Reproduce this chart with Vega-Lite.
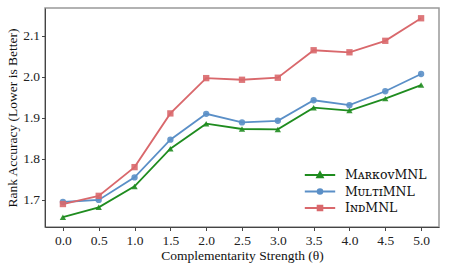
{
  "$schema": "https://vega.github.io/schema/vega-lite/v6.json",
  "width": 394,
  "height": 219,
  "padding": {"left": 5, "top": 8, "right": 8, "bottom": 5},
  "config": {
    "font": "Liberation Serif",
    "view": {"stroke": "#999999", "strokeWidth": 1.5},
    "axis": {"labelFont": "Liberation Serif", "titleFont": "Liberation Serif", "labelFontSize": 13.5, "titleFontSize": 13.5, "titleFontWeight": "normal", "labelColor": "#222", "titleColor": "#111", "grid": false, "domainColor": "#444", "tickColor": "#444", "tickSize": 3.5}
  },
  "data": {"values": [
    {"theta": 0.0, "model": "MarkovMNL", "v": 1.658},
    {"theta": 0.5, "model": "MarkovMNL", "v": 1.682},
    {"theta": 1.0, "model": "MarkovMNL", "v": 1.733},
    {"theta": 1.5, "model": "MarkovMNL", "v": 1.825},
    {"theta": 2.0, "model": "MarkovMNL", "v": 1.886},
    {"theta": 2.5, "model": "MarkovMNL", "v": 1.873},
    {"theta": 3.0, "model": "MarkovMNL", "v": 1.872},
    {"theta": 3.5, "model": "MarkovMNL", "v": 1.925},
    {"theta": 4.0, "model": "MarkovMNL", "v": 1.918},
    {"theta": 4.5, "model": "MarkovMNL", "v": 1.947},
    {"theta": 5.0, "model": "MarkovMNL", "v": 1.980},
    {"theta": 0.0, "model": "MultiMNL", "v": 1.695},
    {"theta": 0.5, "model": "MultiMNL", "v": 1.700},
    {"theta": 1.0, "model": "MultiMNL", "v": 1.755},
    {"theta": 1.5, "model": "MultiMNL", "v": 1.847},
    {"theta": 2.0, "model": "MultiMNL", "v": 1.910},
    {"theta": 2.5, "model": "MultiMNL", "v": 1.889},
    {"theta": 3.0, "model": "MultiMNL", "v": 1.893},
    {"theta": 3.5, "model": "MultiMNL", "v": 1.943},
    {"theta": 4.0, "model": "MultiMNL", "v": 1.931},
    {"theta": 4.5, "model": "MultiMNL", "v": 1.965},
    {"theta": 5.0, "model": "MultiMNL", "v": 2.007},
    {"theta": 0.0, "model": "IndMNL", "v": 1.690},
    {"theta": 0.5, "model": "IndMNL", "v": 1.710},
    {"theta": 1.0, "model": "IndMNL", "v": 1.780},
    {"theta": 1.5, "model": "IndMNL", "v": 1.911},
    {"theta": 2.0, "model": "IndMNL", "v": 1.997},
    {"theta": 2.5, "model": "IndMNL", "v": 1.993},
    {"theta": 3.0, "model": "IndMNL", "v": 1.998},
    {"theta": 3.5, "model": "IndMNL", "v": 2.065},
    {"theta": 4.0, "model": "IndMNL", "v": 2.060},
    {"theta": 4.5, "model": "IndMNL", "v": 2.088},
    {"theta": 5.0, "model": "IndMNL", "v": 2.143}
  ]},
  "encoding": {
    "x": {"field": "theta", "type": "quantitative", "scale": {"domain": [-0.25, 5.25], "nice": false, "zero": false},
      "axis": {"values": [0, 0.5, 1, 1.5, 2, 2.5, 3, 3.5, 4, 4.5, 5], "format": ".1f", "title": "Complementarity Strength (θ)", "titlePadding": 1, "labelPadding": 3}},
    "y": {"field": "v", "type": "quantitative", "scale": {"domain": [1.634, 2.168], "nice": false, "zero": false},
      "axis": {"values": [1.7, 1.8, 1.9, 2.0, 2.1], "format": ".1f", "title": "Rank Accuracy (Lower is Better)", "titlePadding": 3, "labelPadding": 2}}
  },
  "layer": [
    {"mark": {"type": "line", "strokeWidth": 1.8},
      "encoding": {"color": {"field": "model", "type": "nominal", "sort": ["MarkovMNL", "MultiMNL", "IndMNL"],
        "scale": {"domain": ["MarkovMNL", "MultiMNL", "IndMNL"], "range": ["#1f8c1f", "#5a8fc7", "#d9686c"]},
        "legend": {"title": null, "orient": "bottom-right", "offset": 12, "labelFontSize": 12.5, "labelFont": "DejaVu Serif", "labelColor": "#111", "symbolSize": 256, "symbolStrokeWidth": 1.8, "rowPadding": 0.5, "labelOffset": 16,
            "labelExpr": "datum.value == 'MarkovMNL' ? 'MᴀʀᴋᴏᴠMNL' : datum.value == 'MultiMNL' ? 'MᴜʟᴛɪMNL' : 'IɴᴅMNL'",
            "encode": {"symbols": {"update": {
              "shape": {"signal": "datum.value == 'MarkovMNL' ? 'M-1.9,0H1.9M-0.36,0.28L0,-0.36L0.36,0.28Z' : datum.value == 'MultiMNL' ? 'M-1.9,0H1.9M-0.3,0A0.3,0.3 0 1,0 0.3,0A0.3,0.3 0 1,0 -0.3,0Z' : 'M-1.9,0H1.9M-0.3,-0.3H0.3V0.3H-0.3Z'"},
              "stroke": {"signal": "scale('color', datum.value)"},
              "fill": {"signal": "scale('color', datum.value)"},
              "strokeWidth": {"value": 1.8},
              "opacity": {"value": 1}
            }}}
          }}}},
    {"mark": {"type": "point", "filled": true, "opacity": 0.9, "size": 40},
      "encoding": {
        "shape": {"field": "model", "type": "nominal", "scale": {"domain": ["MarkovMNL", "MultiMNL", "IndMNL"], "range": ["triangle-up", "circle", "square"]}, "legend": null},
        "color": {"field": "model", "type": "nominal", "sort": ["MarkovMNL", "MultiMNL", "IndMNL"], "legend": null}
      }}
  ],
  "resolve": {"legend": {"color": "independent"}}
}
